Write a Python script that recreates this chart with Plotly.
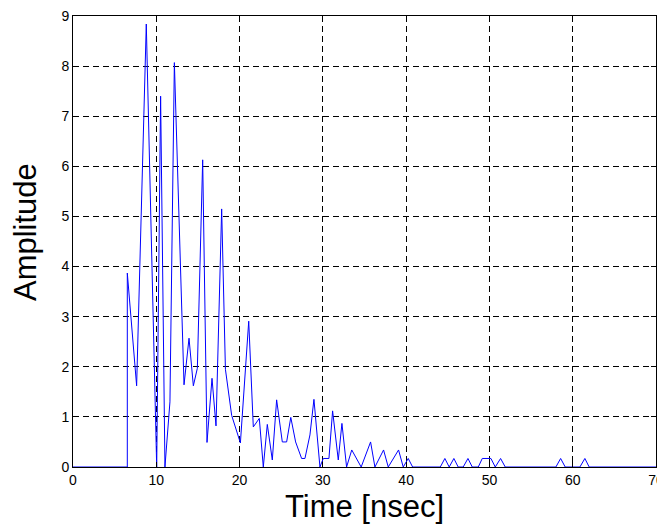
import plotly.graph_objects as go

time_ns = [0.0, 6.52, 6.52, 7.64, 8.80, 10.05, 10.52, 11.04, 11.64, 12.17, 13.33, 13.93,
           14.45, 14.93, 15.57, 16.09, 16.69, 17.17, 17.85, 18.30, 19.05, 20.10, 21.10,
           21.65, 22.37, 22.85, 23.33, 23.93, 24.45, 25.13, 25.65, 26.15, 26.73, 27.45,
           27.85, 28.45, 28.93, 29.65, 30.05, 30.73, 31.17, 31.85, 32.29, 32.85, 33.47,
           34.60, 35.73, 36.25, 37.29, 37.85, 39.09, 39.65, 40.25, 40.78, 44.10, 44.65,
           45.17, 45.73, 46.25, 46.85, 47.42, 47.94, 48.66, 49.14, 50.18, 50.70, 51.34,
           51.90, 57.98, 58.55, 59.10, 60.86, 61.46, 61.98, 70.0]
amplitude = [0.0, 0.0, 3.87, 1.62, 8.84, 0.0, 7.40, 0.0, 1.30, 8.07, 1.64, 2.57,
             1.62, 1.97, 6.13, 0.49, 1.77, 0.82, 5.15, 1.95, 1.03, 0.48, 2.91,
             0.80, 0.97, 0.0, 0.85, 0.14, 1.34, 0.50, 0.50, 0.99, 0.50, 0.17,
             0.17, 0.64, 1.35, 0.0, 0.17, 0.17, 1.12, 0.14, 0.87, 0.0, 0.34,
             0.0, 0.50, 0.0, 0.34, 0.0, 0.34, 0.0, 0.17, 0.0, 0.0, 0.17,
             0.0, 0.17, 0.0, 0.0, 0.17, 0.0, 0.0, 0.17, 0.17, 0.0, 0.17,
             0.0, 0.0, 0.17, 0.0, 0.0, 0.17, 0.0, 0.0]

x_ticks = [0, 10, 20, 30, 40, 50, 60, 70]
y_ticks = [0, 1, 2, 3, 4, 5, 6, 7, 8, 9]
x_title = "Time [nsec]"
y_title = "Amplitude"

FONT = "Liberation Sans, Arial"

fig = go.Figure()
fig.add_trace(go.Scatter(x=time_ns, y=amplitude, mode="lines",
                         line=dict(color="#0000ff", width=1), showlegend=False))

axis_common = dict(
    showline=True, linecolor="black", linewidth=1, mirror="ticks",
    ticks="inside", ticklen=5, tickcolor="black",
    showgrid=True, gridcolor="black", griddash="6px,4px", gridwidth=1,
    zeroline=False, automargin=False, ticklabeloverflow="allow",
    tickfont=dict(family=FONT, size=14, color="black"),
)
fig.update_xaxes(range=[0, 70], tickvals=x_ticks, **axis_common)
fig.update_yaxes(range=[0, 9], tickvals=y_ticks, **axis_common)

# page body has an 8px margin, so the figure is offset by 8px in the window
fig.update_layout(width=657, height=516, margin=dict(l=65, r=9, t=8, b=57),
                  plot_bgcolor="white", paper_bgcolor="white")
fig.add_annotation(text=x_title, xref="paper", yref="paper", x=0.5, y=-0.087,
                   xanchor="center", yanchor="middle", showarrow=False,
                   font=dict(family=FONT, size=31, color="black"))
fig.add_annotation(text=y_title, xref="paper", yref="paper", x=-0.0823, y=0.521,
                   xanchor="center", yanchor="middle", showarrow=False, textangle=-90,
                   font=dict(family=FONT, size=31, color="black"))
fig.write_html("out.html")
